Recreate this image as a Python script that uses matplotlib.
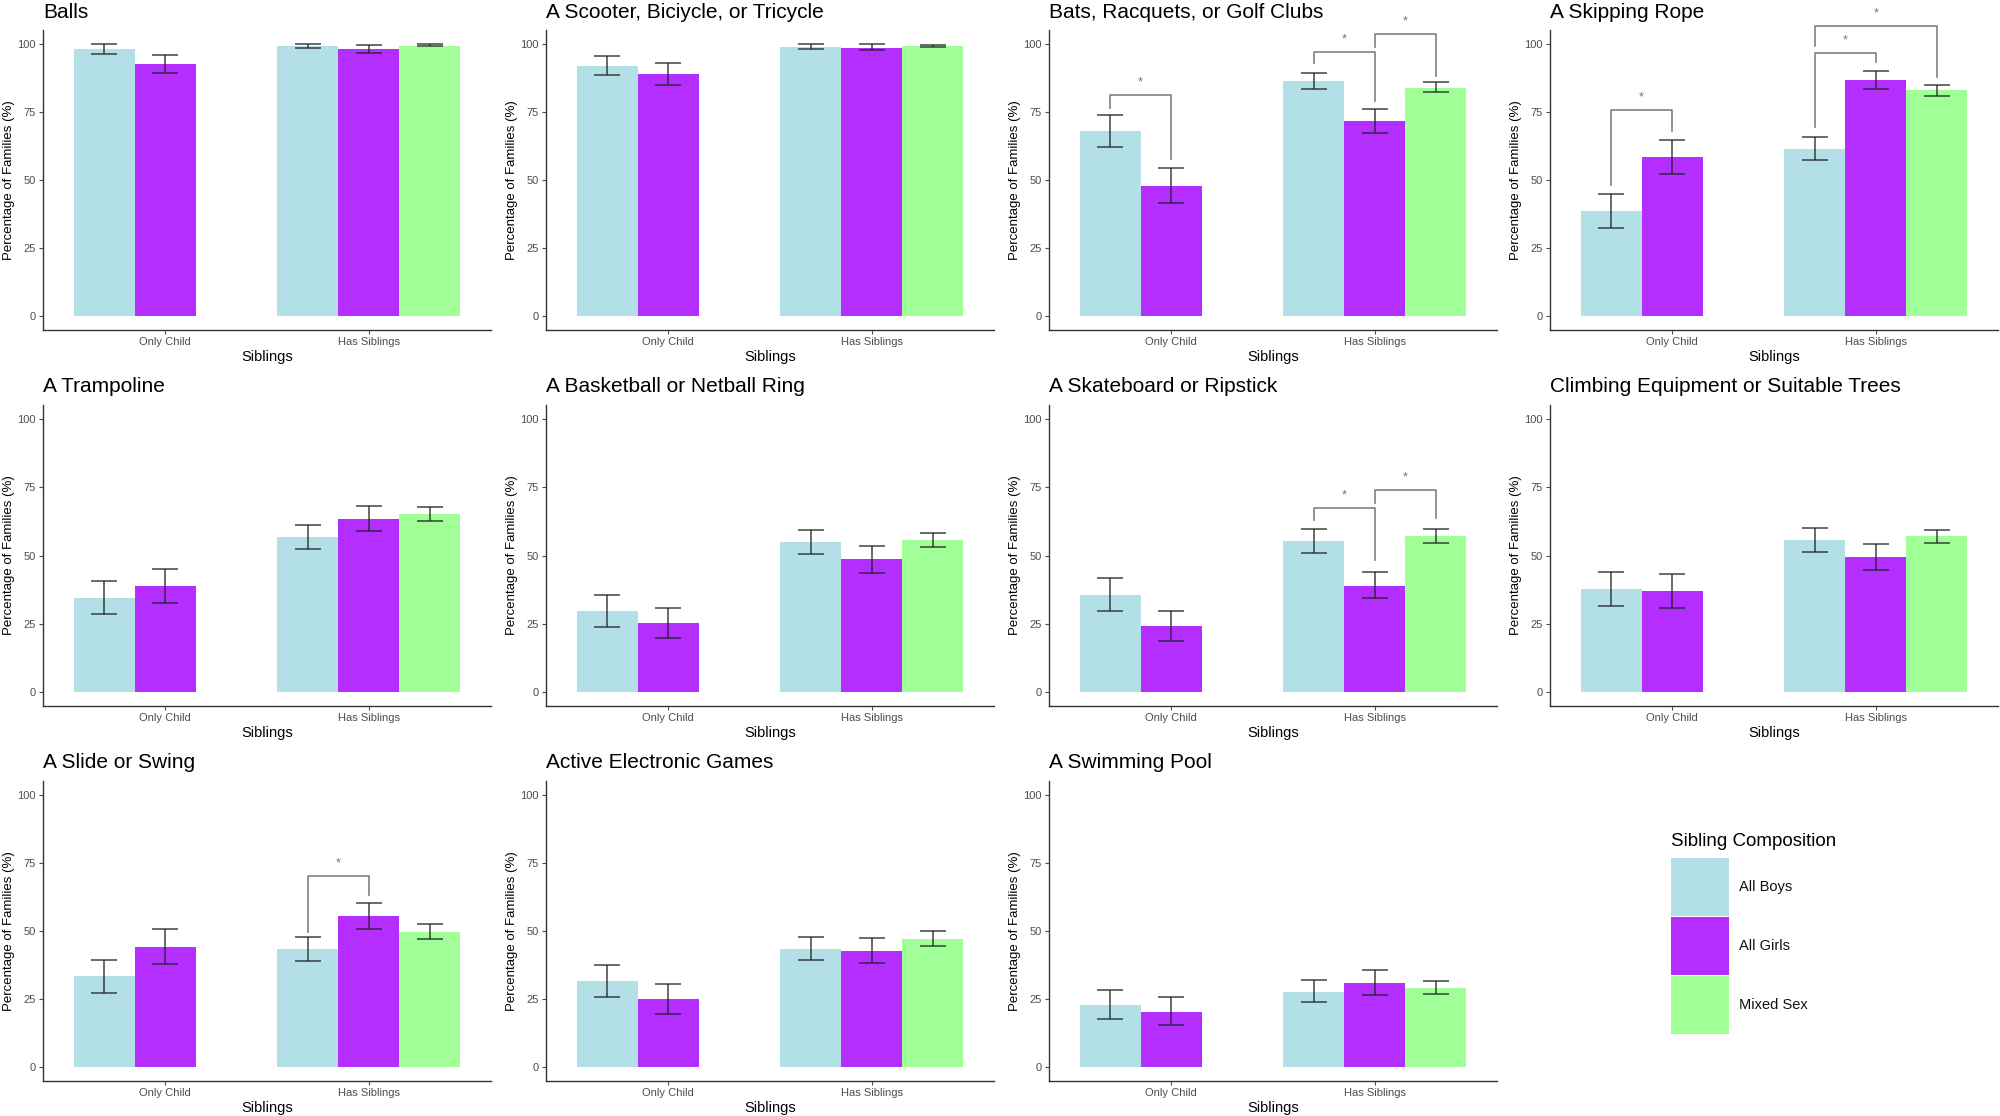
import numpy as np
import matplotlib.pyplot as plt

plt.rcParams["font.family"] = ["Liberation Sans", "DejaVu Sans"]

titles = [
    "Balls", "A Scooter, Biciycle, or Tricycle", "Bats, Racquets, or Golf Clubs", "A Skipping Rope",
    "A Trampoline", "A Basketball or Netball Ring", "A Skateboard or Ripstick",
    "Climbing Equipment or Suitable Trees",
    "A Slide or Swing", "Active Electronic Games", "A Swimming Pool",
]
categories = ["Only Child", "Has Siblings"]
groups = ["All Boys", "All Girls", "Mixed Sex"]

# mean percentage per panel
oc_boys = [97.9, 91.9, 67.8, 38.7, 34.4, 29.6, 35.5, 37.7, 33.4, 31.7, 23.0]
oc_girls = [92.5, 88.9, 47.9, 58.6, 38.8, 25.2, 24.2, 37.2, 44.3, 25.2, 20.3]
hs_boys = [99.3, 98.9, 86.3, 61.4, 56.7, 54.9, 55.2, 55.6, 43.4, 43.4, 27.6]
hs_girls = [97.9, 98.5, 71.6, 86.6, 63.3, 48.6, 39.0, 49.3, 55.6, 42.8, 31.1]
hs_mixed = [99.3, 99.1, 83.8, 82.9, 65.1, 55.7, 57.3, 57.1, 49.8, 47.0, 29.1]

# error bar bounds
oc_boys_lo = [96.1, 88.5, 62.0, 32.5, 28.5, 23.9, 29.8, 31.7, 27.4, 25.8, 17.6]
oc_boys_hi = [99.7, 95.5, 73.9, 45.0, 40.6, 35.4, 41.9, 44.0, 39.4, 37.5, 28.4]
oc_girls_lo = [89.4, 84.7, 41.5, 52.2, 32.7, 19.8, 18.8, 30.9, 38.0, 19.6, 15.4]
oc_girls_hi = [95.9, 92.9, 54.4, 64.8, 45.0, 30.8, 29.9, 43.3, 50.7, 30.7, 25.8]
hs_boys_lo = [98.5, 97.9, 83.3, 57.3, 52.4, 50.5, 51.0, 51.3, 39.1, 39.2, 23.8]
hs_boys_hi = [99.8, 99.9, 89.4, 65.9, 61.2, 59.3, 59.8, 60.1, 47.8, 47.8, 31.9]
hs_girls_lo = [96.7, 97.6, 67.2, 83.3, 58.8, 43.7, 34.3, 44.6, 50.6, 38.1, 26.7]
hs_girls_hi = [99.4, 99.8, 76.0, 89.9, 68.2, 53.4, 44.0, 54.3, 60.2, 47.6, 35.8]
hs_mixed_lo = [99.0, 98.7, 82.1, 80.7, 62.7, 53.0, 54.7, 54.5, 47.2, 44.5, 26.8]
hs_mixed_hi = [99.8, 99.6, 85.9, 84.8, 67.7, 58.2, 59.8, 59.5, 52.6, 49.9, 31.7]

# significance brackets: panel, category, from group, to group, top, left tip end, right tip end
brackets = [
    (2, 0, 0, 1, 81.2, 76.4, 57.8),
    (2, 1, 0, 1, 97.1, 92.8, 78.8),
    (2, 1, 1, 2, 103.7, 98.9, 88.2),
    (3, 0, 0, 1, 75.6, 48.2, 67.8),
    (3, 1, 0, 1, 96.7, 69.6, 93.4),
    (3, 1, 0, 2, 106.5, 99.3, 87.7),
    (6, 1, 0, 1, 67.5, 63.0, 48.4),
    (6, 1, 1, 2, 74.0, 69.1, 63.6),
    (8, 1, 0, 1, 70.0, 49.8, 63.2),
]

colors = ["#B3E0E6", "#B32EFF", "#A0FF96"]
W, H = 2000, 1116
col_left = [43, 546, 1049, 1550]
row_span = [(30, 330), (405, 706), (781, 1081)]
bar_w = 0.3
offsets = [-0.3, 0.0, 0.3]

fig = plt.figure(figsize=(20, 11.16), dpi=100)

for i, title in enumerate(titles):
    r, c = divmod(i, 4)
    top, bot = row_span[r]
    ax = fig.add_axes([col_left[c] / W, 1 - bot / H, 448 / W, (bot - top) / H])

    series = [
        (0, 0, oc_boys, oc_boys_lo, oc_boys_hi),
        (0, 1, oc_girls, oc_girls_lo, oc_girls_hi),
        (1, 0, hs_boys, hs_boys_lo, hs_boys_hi),
        (1, 1, hs_girls, hs_girls_lo, hs_girls_hi),
        (1, 2, hs_mixed, hs_mixed_lo, hs_mixed_hi),
    ]
    for cat, g, mean, lo, hi in series:
        x = cat + 1 + offsets[g]
        ax.bar(x, mean[i], width=bar_w, color=colors[g], edgecolor="none", zorder=2)
        mid = (lo[i] + hi[i]) / 2
        ax.errorbar(x, mid, yerr=(hi[i] - lo[i]) / 2, fmt="none",
                    ecolor="#222222", alpha=0.85, elinewidth=1.1, capsize=9.5,
                    capthick=1.1, zorder=3)

    for p, cat, g1, g2, ytop, yl, yr in brackets:
        if p != i:
            continue
        x1 = cat + 1 + offsets[g1]
        x2 = cat + 1 + offsets[g2]
        ax.plot([x1, x1, x2, x2], [yl, ytop, ytop, yr], color="#808080",
                lw=1.2, clip_on=False, zorder=4)
        ax.text((x1 + x2) / 2, ytop + 4.6, "*", ha="center", va="center",
                fontsize=9, color="#777777", clip_on=False)

    ax.set_xlim(0.4, 2.6)
    ax.set_ylim(-5, 105)
    ax.set_xticks([1, 2])
    ax.set_xticklabels(categories)
    ax.set_yticks([0, 25, 50, 75, 100])
    ax.tick_params(colors="#4D4D4D", labelsize=8, length=3, width=0.8, pad=2)
    for s in ["top", "right"]:
        ax.spines[s].set_visible(False)
    for s in ["left", "bottom"]:
        ax.spines[s].set_color("#333333")
        ax.spines[s].set_linewidth(1.0)
    ax.set_xlabel("Siblings", fontsize=10.5, labelpad=2)
    ax.set_ylabel("Percentage of Families (%)", fontsize=9.5, labelpad=2)
    ax.set_title(title, loc="left", fontsize=15, pad=9)

# legend drawn as its own small axes
lax = fig.add_axes([1671 / W, 1 - 1035 / H, 58 / W, 178 / H])
lax.set_xlim(0, 1)
lax.set_ylim(0, 3)
lax.axis("off")
for k, (name, col) in enumerate(zip(groups, colors)):
    y0 = 2 - k
    lax.bar(0.5, 0.98, width=1, bottom=y0 + 0.01, color=col, edgecolor="none")
    lax.text(1.17, y0 + 0.5, name, ha="left", va="center", fontsize=10.5, color="#111111")
lax.text(0, 3.12, "Sibling Composition", ha="left", va="bottom", fontsize=13.5)

fig.savefig("out.png", dpi=100)
